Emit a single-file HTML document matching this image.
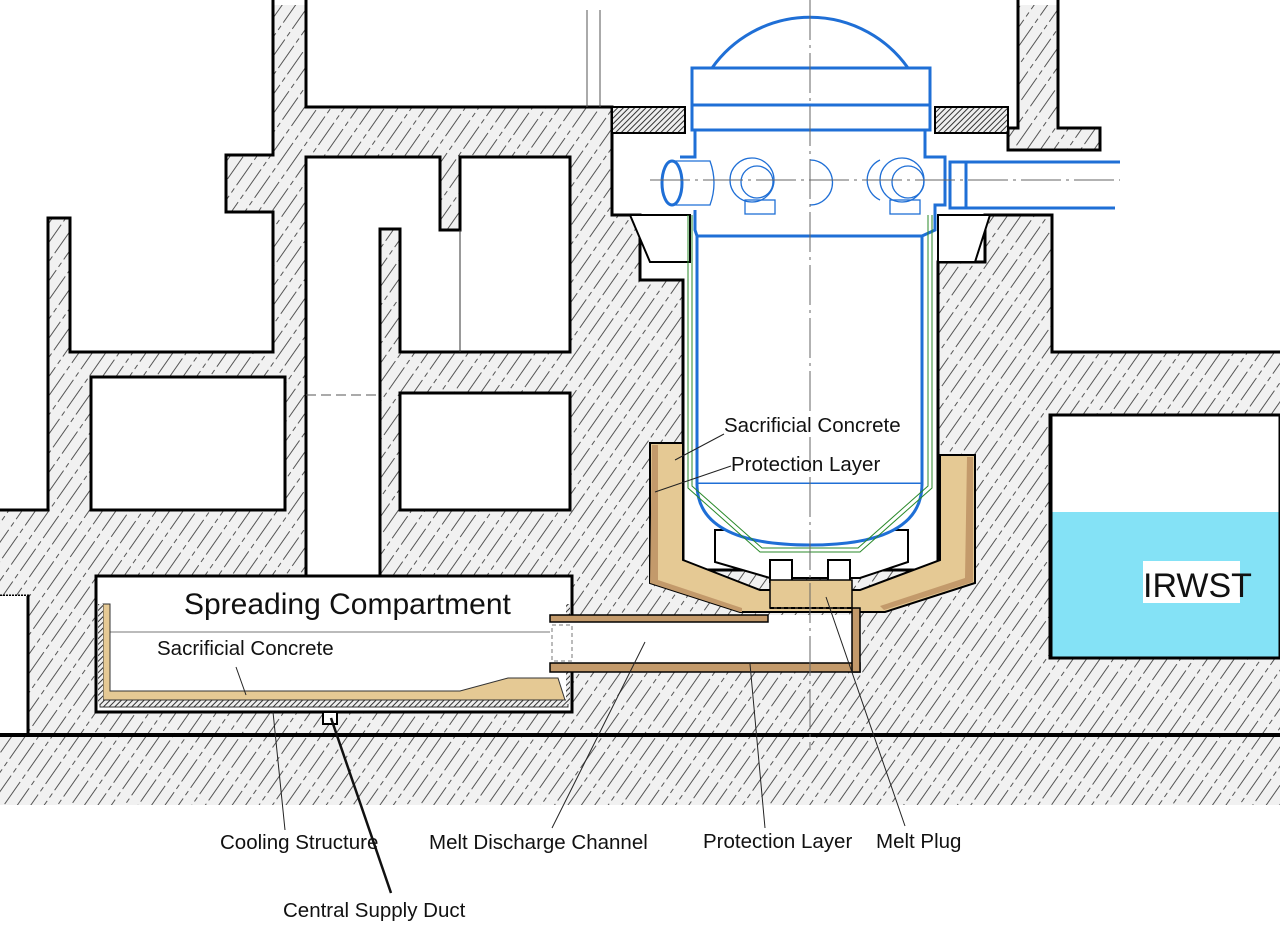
<!DOCTYPE html>
<html><head><meta charset="utf-8"><style>
html,body{margin:0;padding:0;background:#fff;}
svg{display:block;}
text{font-family:"Liberation Sans",Arial,sans-serif;fill:#111;}
</style></head><body>
<svg width="1280" height="930" viewBox="0 0 1280 930" xmlns="http://www.w3.org/2000/svg">
<defs>
<pattern id="h" patternUnits="userSpaceOnUse" width="11" height="40" patternTransform="rotate(35)">
<rect width="11" height="40" fill="#f1f1f1"/>
<line x1="3" y1="0" x2="3" y2="40" stroke="#555" stroke-width="1" stroke-dasharray="16 4 5 4"/>
</pattern>
<pattern id="x" patternUnits="userSpaceOnUse" width="4" height="4" patternTransform="rotate(45)">
<rect width="4" height="4" fill="#eee"/><line x1="1" y1="0" x2="1" y2="4" stroke="#333" stroke-width="1"/>
</pattern>
</defs>
<rect x="0" y="0" width="1280" height="930" fill="#fff"/>
<rect x="0" y="5" width="1280" height="800" fill="url(#h)"/>
<g fill="#fff" stroke="#000" stroke-width="3">
<polygon points="-5,-5 273,-5 273,155 226,155 226,212 273,212 273,352 70,352 70,218 48,218 48,510 -5,510"/>
<polygon points="306,-5 1018,-5 1018,128 1008,128 1008,150 1100,150 1100,128 1058,128 1058,-5 1285,-5 1285,352 1052,352 1052,215 985,215 985,262 938,262 938,570 683,570 683,280 640,280 640,215 612,215 612,107 306,107"/>
<polygon points="306,157 440,157 440,230 460,230 460,157 570,157 570,352 400,352 400,229 380,229 380,578 306,578"/>
<rect x="91" y="377" width="194" height="133"/>
<rect x="400" y="393" width="170" height="117"/>
<rect x="1050" y="415" width="235" height="243"/>
</g>
<rect x="0" y="596" width="28" height="139" fill="#fff" stroke="#000" stroke-width="3" stroke-dasharray="2 1"/>
<rect x="0" y="596" width="26" height="137" fill="#fff"/>
<line x1="0" y1="735" x2="1280" y2="735" stroke="#000" stroke-width="4"/>
<line x1="28" y1="735" x2="28" y2="596" stroke="#000" stroke-width="3"/>
<line x1="460" y1="230" x2="460" y2="352" stroke="#333" stroke-width="1"/>
<line x1="587" y1="10" x2="587" y2="107" stroke="#555" stroke-width="1"/>
<line x1="600" y1="10" x2="600" y2="107" stroke="#555" stroke-width="1"/>
<line x1="306" y1="395" x2="380" y2="395" stroke="#555" stroke-width="1" stroke-dasharray="10 5"/>
<line x1="273" y1="212" x2="273" y2="352" stroke="#000" stroke-width="1"/>
<rect x="1051" y="512" width="229" height="145" fill="#84e2f6"/>
<rect x="1051" y="415" width="229" height="243" fill="none" stroke="#000" stroke-width="3"/>
<rect x="1143" y="561" width="97" height="42" fill="#fff"/>
<text x="1143" y="597" font-size="34">IRWST</text>
<rect x="612" y="107" width="73" height="26" fill="url(#x)" stroke="#000" stroke-width="2"/>
<rect x="935" y="107" width="73" height="26" fill="url(#x)" stroke="#000" stroke-width="2"/>
<polygon points="630,215 690,215 690,262 650,262" fill="#fff" stroke="#000" stroke-width="2"/>
<polygon points="938,215 990,215 975,262 938,262" fill="#fff" stroke="#000" stroke-width="2"/>
<polygon points="650,443 683,443 683,560 760,590 860,590 940,560 940,455 975,455 975,583 885,612 740,612 650,583" fill="#e5c994" stroke="#000" stroke-width="2"/>
<polygon points="652,445 658,445 658,580 742,608 742,612 740,612 650,583" fill="#c39a6b"/>
<polygon points="967,457 973,457 973,582 884,610 880,606 965,578" fill="#c39a6b"/>
<polygon points="715,530 908,530 908,562 860,578 770,578 715,562" fill="#fff" stroke="#000" stroke-width="2"/>
<rect x="770" y="560" width="22" height="22" fill="#fff" stroke="#000" stroke-width="2"/>
<rect x="828" y="560" width="22" height="22" fill="#fff" stroke="#000" stroke-width="2"/>
<rect x="770" y="580" width="82" height="28" fill="#e5c994" stroke="#000" stroke-width="1.5"/>
<!-- spreading compartment -->
<rect x="96" y="576" width="476" height="136" fill="#fff" stroke="#000" stroke-width="3"/>
<line x1="110" y1="632" x2="555" y2="632" stroke="#777" stroke-width="1"/>
<polygon points="103,604 110,604 110,691 460,691 508,678 558,678 565,700 103,700" fill="#e5c994" stroke="#333" stroke-width="1"/>
<rect x="100" y="700" width="468" height="7" fill="url(#x)" stroke="#333" stroke-width="1"/>
<rect x="98" y="604" width="5" height="100" fill="url(#x)"/>
<rect x="566" y="604" width="4" height="100" fill="url(#x)"/>
<rect x="323" y="712" width="14" height="12" fill="#fff" stroke="#000" stroke-width="2"/>
<!-- channel -->
<rect x="550" y="615" width="310" height="57" fill="#fff"/>
<rect x="550" y="615" width="218" height="7" fill="#c39a6b" stroke="#000" stroke-width="1.5"/>
<rect x="550" y="663" width="310" height="9" fill="#c39a6b" stroke="#000" stroke-width="1.5"/>
<rect x="852" y="608" width="8" height="64" fill="#c39a6b" stroke="#000" stroke-width="1.5"/>
<line x1="770" y1="608" x2="852" y2="608" stroke="#000" stroke-width="2" stroke-dasharray="4 3"/>
<rect x="552" y="625" width="20" height="36" fill="none" stroke="#777" stroke-width="1" stroke-dasharray="4 3"/>
<g fill="none" stroke="#1f6fd6" stroke-width="3">
<path d="M712,68 A120,120 0 0 1 908,68"/>
<rect x="692" y="68" width="238" height="37" fill="#fff"/>
<rect x="692" y="105" width="238" height="25" fill="#fff"/>
<path d="M695,130 L695,157 L680,157 M925,130 L925,157 L945,157 L945,205 L935,205 L935,230 L922,236 L697,236 L695,230 L695,210"/>
<rect x="697" y="236" width="225" height="248" fill="#fff"/>
<path d="M697,484 Q697,545 810,545 Q922,545 922,484" fill="#fff"/>
<ellipse cx="672" cy="183" rx="10" ry="22"/>
<line x1="950" y1="162" x2="1120" y2="162"/><line x1="950" y1="208" x2="1115" y2="208"/>
<rect x="950" y="162" width="16" height="46"/>
</g>
<g fill="none" stroke="#1f6fd6" stroke-width="1.3">
<path d="M672,161 L710,161 Q718,183 710,205 L672,205"/>
<circle cx="752" cy="180" r="22"/><circle cx="757" cy="182" r="16"/>
<path d="M810,160 A20,20 0 0 1 810,205"/>
<circle cx="902" cy="180" r="22"/><circle cx="908" cy="182" r="16"/>
<path d="M880,160 A22,22 0 0 0 880,200"/>
<rect x="745" y="200" width="30" height="14"/><rect x="890" y="200" width="30" height="14"/>
</g>
<g fill="none" stroke="#2a8a2a" stroke-width="1">
<path d="M688,215 L688,488 L760,552 L860,552 L932,488 L932,215"/>
<path d="M692,215 L692,486 L762,548 L858,548 L928,486 L928,215"/>
</g>
<line x1="810" y1="0" x2="810" y2="750" stroke="#666" stroke-width="1" stroke-dasharray="40 5 3 5"/>
<line x1="650" y1="180" x2="1120" y2="180" stroke="#666" stroke-width="1" stroke-dasharray="40 5 3 5"/>
<rect x="0" y="806" width="1280" height="124" fill="#fff"/>
<text x="184" y="614" font-size="30">Spreading Compartment</text>
<text x="157" y="655" font-size="20.5">Sacrificial Concrete</text>
<rect x="722" y="412" width="188" height="25" fill="#fff"/>
<text x="724" y="432" font-size="20.5">Sacrificial Concrete</text>
<text x="731" y="471" font-size="20.5">Protection Layer</text>
<g stroke="#222" stroke-width="1" fill="none">
<line x1="236" y1="667" x2="246" y2="695"/>
<line x1="724" y1="434" x2="675" y2="460"/>
<line x1="731" y1="466" x2="655" y2="492"/>
<line x1="285" y1="830" x2="273" y2="712"/>
<line x1="552" y1="828" x2="645" y2="642"/>
<line x1="765" y1="828" x2="750" y2="664"/>
<line x1="905" y1="826" x2="826" y2="597"/>
</g>
<line x1="391" y1="893" x2="331" y2="718" stroke="#111" stroke-width="2.5"/>
<text x="220" y="849" font-size="20.5">Cooling Structure</text>
<text x="429" y="849" font-size="20.5">Melt Discharge Channel</text>
<text x="703" y="848" font-size="20.5">Protection Layer</text>
<text x="876" y="848" font-size="20.5">Melt Plug</text>
<text x="283" y="917" font-size="20.5">Central Supply Duct</text>
</svg>
</body></html>
